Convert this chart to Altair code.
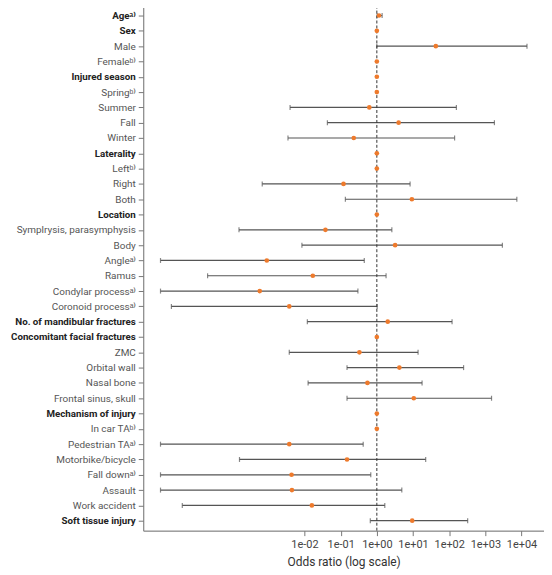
import json
import altair as alt
import pandas as pd

labels = [
    "Ageᵃ⁾", "Sex", "Male", "Femaleᵇ⁾", "Injured season", "Springᵇ⁾", "Summer", "Fall", "Winter",
    "Laterality", "Leftᵇ⁾", "Right", "Both", "Location", "Symplrysis, parasymphysis", "Body",
    "Angleᵃ⁾", "Ramus", "Condylar processᵃ⁾", "Coronoid processᵃ⁾", "No. of mandibular fractures",
    "Concomitant facial fractures", "ZMC", "Orbital wall", "Nasal bone", "Frontal sinus, skull",
    "Mechanism of injury", "In car TAᵇ⁾", "Pedestrian TAᵃ⁾", "Motorbike/bicycle", "Fall downᵃ⁾",
    "Assault", "Work accident", "Soft tissue injury",
]
headers = [
    "Ageᵃ⁾", "Sex", "Injured season", "Laterality", "Location", "No. of mandibular fractures",
    "Concomitant facial fractures", "Mechanism of injury", "Soft tissue injury",
]
odds = [
    1.15, 1, 42.7, 1, 1, 1, 0.62, 4.0, 0.23,
    1, 1, 0.12, 9.3, 1, 0.038, 3.2,
    0.00091, 0.017, 0.00058, 0.0038, 2.0,
    1, 0.33, 4.2, 0.55, 10.5,
    1, 1, 0.0038, 0.15, 0.0044,
    0.0045, 0.016, 9.5,
]
ci_low = [
    1.02, None, 1.0, None, None, None, 0.004, 0.043, 0.0035,
    None, None, 0.00068, 0.135, None, 0.000155, 0.0085,
    1.05e-6, 2.1e-5, 1.05e-6, 2.1e-6, 0.012,
    None, 0.0038, 0.15, 0.0126, 0.15,
    None, None, 1.05e-6, 0.00016, 1.05e-6,
    1.05e-6, 4.2e-6, 0.66,
]
ci_high = [
    1.4, None, 14125, None, None, None, 158, 1778, 141,
    None, None, 8.3, 7400, None, 2.6, 2950,
    0.45, 1.8, 0.30, 1.02, 120,
    None, 13.8, 250, 17.8, 1480,
    None, None, 0.42, 22.4, 0.68,
    4.9, 1.66, 324,
]
x_ticks = [0.01, 0.1, 1, 10, 100, 1000, 10000]

df = pd.DataFrame({"label": labels, "odds": odds, "lo": ci_low, "hi": ci_high})
ci = df.dropna(subset=["lo", "hi"])
ends = pd.concat([
    ci[["label", "lo"]].rename(columns={"lo": "v"}),
    ci[["label", "hi"]].rename(columns={"hi": "v"}),
])

FONT = "Roboto, sans-serif"
bold_test = "indexof(" + json.dumps(headers) + ", datum.value) >= 0"

xscale = alt.Scale(type="log", domain=[3.5e-7, 41700], nice=False)
yscale = alt.Scale(type="point", padding=0.65)

xaxis = alt.Axis(
    values=x_ticks,
    title="Odds ratio (log scale)",
    labelExpr="'1e' + (round(log(datum.value)/LN10) < 0 ? '-' : '+') + (abs(round(log(datum.value)/LN10)) < 10 ? '0' : '') + abs(round(log(datum.value)/LN10))",
    grid=False, tickSize=5, labelPadding=3, titlePadding=7,
    labelFontSize=11, titleFontSize=12, titleFontWeight="normal",
    labelColor="#444", titleColor="#333", domainColor="#777", tickColor="#777",
    labelFont=FONT, titleFont=FONT, labelFlush=False, labelOverlap=False,
)
yaxis = alt.Axis(
    title=None, grid=False, tickSize=5, labelPadding=3,
    labelFont=FONT, labelLimit=300,
    labelFontSize={"condition": {"test": bold_test, "value": 9.8}, "value": 10},
    labelFontWeight={"condition": {"test": bold_test, "value": "bold"}, "value": "normal"},
    labelColor={"condition": {"test": bold_test, "value": "#222"}, "value": "#555"},
    domainColor="#777", tickColor="#777",
)

y = alt.Y("label:N", sort=labels, scale=yscale, axis=yaxis)

rules = alt.Chart(ci).mark_rule(color="#555", strokeWidth=1.2).encode(
    x=alt.X("lo:Q", scale=xscale, axis=xaxis), x2="hi:Q", y=y,
)
caps = alt.Chart(ends).mark_tick(color="#555", thickness=1.2, size=5).encode(
    x=alt.X("v:Q", scale=xscale), y=y,
)
ref = alt.Chart(pd.DataFrame({"x": [1]})).mark_rule(
    color="#333", strokeDash=[3, 2], strokeWidth=1
).encode(x=alt.X("x:Q", scale=xscale))
pts = alt.Chart(df).mark_point(filled=True, shape="circle", size=22, color="#EE7A2C", opacity=1).encode(
    x=alt.X("odds:Q", scale=xscale), y=y,
)

chart = alt.layer(rules, caps, ref, pts).properties(
    width=403, height=528,
    autosize=alt.AutoSizeParams(type="none"),
    padding={"left": 136, "top": -4, "right": 0, "bottom": 40},
).configure_view(stroke=None).configure(background="white")

chart.save("out.html", embed_options={"renderer": "svg", "actions": False})
